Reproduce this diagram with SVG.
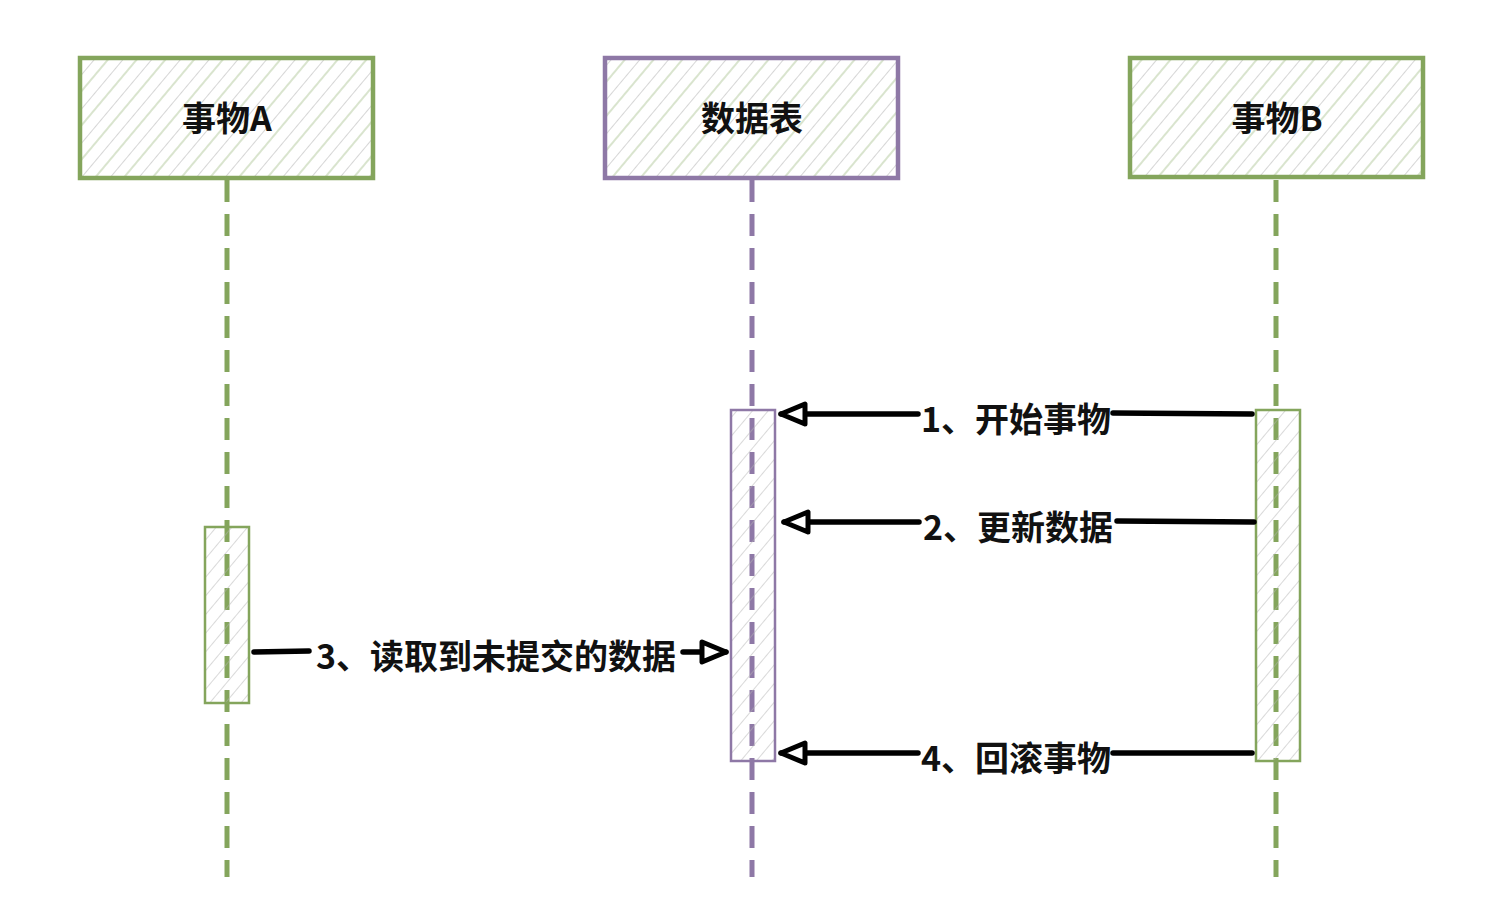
<svg xmlns="http://www.w3.org/2000/svg" width="1495" height="913" viewBox="0 0 1495 913">
<defs>
<pattern id="hatch" patternUnits="userSpaceOnUse" width="22" height="22" patternTransform="rotate(40)">
<line x1="0" y1="0" x2="0" y2="22" stroke="#adadad" stroke-width="1"/>
<line x1="11" y1="0" x2="11" y2="22" stroke="#cddbbd" stroke-width="1.5"/>
</pattern>
<pattern id="hatchS" patternUnits="userSpaceOnUse" width="12" height="12" patternTransform="rotate(40)">
<line x1="0" y1="0" x2="0" y2="12" stroke="#b3b3b3" stroke-width="1"/>
</pattern>
<marker id="tri" viewBox="0 0 30 26" refX="27" refY="13" markerWidth="30" markerHeight="26" markerUnits="userSpaceOnUse" orient="auto">
<path d="M3,3 L27,13 L3,23 Z" fill="#fff" stroke="#000" stroke-width="5" stroke-linejoin="round"/>
</marker>
</defs>
<style>
.head{stroke-width:4.5}
.green{stroke:#84a55c}
.purple{stroke:#8e78a6}
.life{fill:none;stroke-width:5;stroke-dasharray:22 12}
.act{stroke-width:2.5}
.t{font-family:"Noto Sans CJK SC","Liberation Sans",sans-serif;font-weight:bold;fill:#111}
.lbl{font-size:34px}
.msg{fill:none;stroke:#000;stroke-width:5.5;stroke-linecap:round}
</style>
<rect width="1495" height="913" fill="#fff"/>
<g id="lifelines">
<line class="life green" x1="227" y1="180" x2="227" y2="877"/>
<line class="life purple" x1="752" y1="180" x2="752" y2="877"/>
<line class="life green" x1="1276" y1="180" x2="1276" y2="877"/>
</g>
<g id="node-a">
<rect x="80" y="58" width="293" height="120" fill="url(#hatch)" class="head green"/>
<text class="t" x="227" y="131" font-size="34" text-anchor="middle">事物A</text>
</g>
<g id="node-table">
<rect x="605" y="58" width="293" height="120" fill="url(#hatch)" class="head purple"/>
<text class="t" x="752" y="131" font-size="34" text-anchor="middle">数据表</text>
</g>
<g id="node-b">
<rect x="1130" y="58" width="293" height="119" fill="url(#hatch)" class="head green"/>
<text class="t" x="1277" y="131" font-size="34" text-anchor="middle">事物B</text>
</g>
<g id="act-a">
<rect x="205" y="527" width="44" height="176" fill="url(#hatchS)" class="act green"/>
</g>
<g id="act-table">
<rect x="731" y="410" width="44" height="351" fill="url(#hatchS)" class="act purple"/>
</g>
<g id="act-b">
<rect x="1256" y="410" width="44" height="351" fill="url(#hatchS)" class="act green"/>
</g>
<g id="connectors">
<line class="msg" x1="1252" y1="414" x2="1113" y2="413"/>
<line class="msg" x1="918" y1="414" x2="781" y2="414" marker-end="url(#tri)"/>
<line class="msg" x1="1254" y1="522" x2="1117" y2="521"/>
<line class="msg" x1="919" y1="522" x2="784" y2="522" marker-end="url(#tri)"/>
<line class="msg" x1="254" y1="652" x2="309" y2="651"/>
<line class="msg" x1="683" y1="652" x2="726" y2="652" marker-end="url(#tri)"/>
<line class="msg" x1="1252" y1="753" x2="1113" y2="753"/>
<line class="msg" x1="918" y1="753" x2="781" y2="753" marker-end="url(#tri)"/>
</g>
<g id="labels">
<text class="t lbl" x="1016" y="432" text-anchor="middle">1、开始事物</text>
<text class="t lbl" x="1018" y="540" text-anchor="middle">2、更新数据</text>
<text class="t lbl" x="496" y="669" text-anchor="middle">3、读取到未提交的数据</text>
<text class="t lbl" x="1016" y="771" text-anchor="middle">4、回滚事物</text>
</g>
</svg>
